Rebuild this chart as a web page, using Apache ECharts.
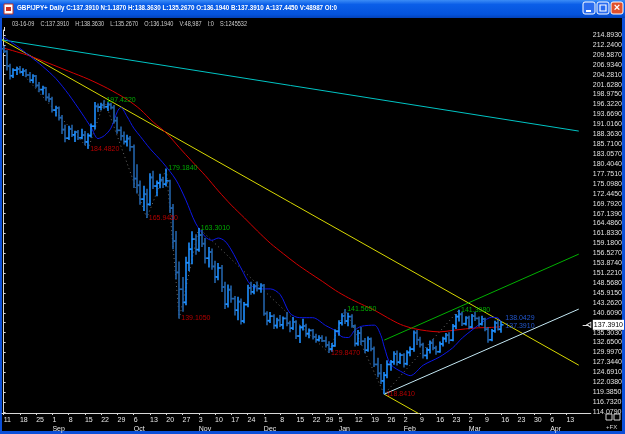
<!DOCTYPE html>
<html>
<head>
<meta charset="utf-8">
<script src="https://cdn.jsdelivr.net/npm/echarts@6/dist/echarts.min.js"></script>
<style>
  html, body { margin: 0; padding: 0; background: #000; }
  #chart { width: 625px; height: 434px; }
</style>
</head>
<body>
<div id="chart"></div>
<script>
// GBP/JPY daily, 11 Aug 2008 .. 16 Mar 2009 (index = trading day, 25 Dec / 1 Jan skipped)
const opens = [
  211.2,210.5,206.6,204.0,205.5,205.8,205.0,205.3,204.2,202.8,
  203.9,201.4,200.3,200.8,198.2,197.8,194.8,195.4,192.8,189.6,
  187.3,189.8,188.2,188.9,187.4,188.1,186.3,188.0,190.5,195.8,
  195.6,196.1,195.7,196.3,195.5,192.0,189.4,187.9,186.4,187.2,
  185.0,176.5,174.7,171.0,172.3,169.6,176.8,174.5,175.3,176.2,
  175.0,175.9,168.6,159.8,151.4,146.9,143.4,154.0,157.6,160.3,
  157.5,161.4,159.1,155.2,156.9,153.0,150.2,152.6,147.5,142.9,
  146.8,144.4,141.3,143.6,138.4,142.8,147.3,146.2,147.7,147.1,
  147.9,140.4,138.5,139.7,137.2,138.6,137.4,139.1,137.8,136.5,
  138.2,134.4,136.7,137.1,135.0,135.9,134.2,133.4,133.9,133.1,
  132.0,130.9,131.8,135.7,137.9,139.8,138.4,139.6,137.1,132.4,
  135.2,133.0,130.6,133.6,131.0,126.8,124.4,122.4,123.9,126.8,
  127.5,129.6,127.4,129.3,127.0,130.0,130.9,135.3,133.4,132.1,
  129.2,130.7,132.5,131.2,130.2,132.3,133.7,134.6,133.3,137.0,
  139.6,140.2,137.7,139.3,136.8,139.7,139.1,137.6,139.0,136.2,
  133.4,135.8,137.9,136.194
];
const highs = [
  212.0,210.8,207.2,206.0,206.4,206.6,206.0,205.8,205.0,204.4,
  204.2,202.3,201.3,201.0,199.3,198.4,196.0,195.8,193.5,190.9,
  190.6,190.9,189.3,189.5,189.8,189.2,188.6,191.2,197.0,196.6,
  196.8,197.422,196.9,196.8,196.2,193.0,190.4,189.1,188.2,187.9,
  185.6,180.3,176.0,174.6,173.8,177.9,178.6,176.0,177.8,177.0,
  179.184,176.2,169.7,162.5,154.3,150.2,155.6,159.4,162.4,161.6,
  163.301,162.8,160.6,158.2,157.8,154.5,153.9,153.4,148.9,148.2,
  147.9,145.1,144.9,144.4,143.5,148.1,148.9,148.3,149.0,148.5,
  148.3,141.0,140.8,140.2,139.3,140.0,139.6,140.8,138.5,139.5,
  138.6,137.3,139.0,137.7,136.4,136.3,135.0,134.6,134.6,134.3,
  133.0,132.5,136.2,138.6,140.5,141.565,140.6,140.2,137.5,136.0,
  136.8,133.9,134.3,134.0,131.6,128.6,126.9,124.8,127.9,128.0,
  130.3,130.5,129.9,129.8,130.6,131.6,135.9,136.0,134.2,132.6,
  131.3,133.2,133.6,131.8,132.9,134.2,135.2,135.4,137.6,140.3,
  141.398,140.9,139.7,139.8,140.3,140.9,139.6,139.8,139.3,136.8,
  136.3,138.5,138.7,138.363
];
const lows = [
  210.1,205.4,203.0,203.4,204.2,204.6,203.9,203.6,202.2,202.0,
  200.8,199.6,198.9,197.4,196.9,194.2,193.1,192.0,188.4,186.2,
  186.8,187.6,186.3,186.8,187.0,185.4,184.482,187.5,189.6,194.3,
  194.8,195.2,194.6,195.0,191.2,188.5,186.7,185.6,185.1,183.8,
  174.0,172.5,169.5,167.8,165.945,169.2,173.7,171.8,173.9,174.0,
  174.4,167.3,157.6,149.5,139.105,140.9,142.6,151.8,153.6,156.1,
  156.9,158.2,153.8,152.7,152.1,148.6,149.3,146.2,141.6,142.0,
  143.3,139.9,138.6,137.5,137.8,142.1,145.4,145.6,146.3,146.0,
  139.8,137.3,137.9,136.3,136.4,136.8,136.2,137.0,135.4,136.0,
  133.6,132.5,135.9,134.2,133.8,133.5,132.6,132.9,132.8,131.3,
  129.847,130.2,131.5,134.5,137.2,137.6,137.0,136.6,131.6,131.8,
  132.0,129.8,130.2,130.3,126.1,123.4,121.6,118.841,123.1,125.1,
  126.7,126.5,126.9,126.0,126.6,129.0,130.2,132.0,131.3,128.4,
  128.2,129.7,130.6,129.4,129.9,131.6,132.7,132.3,133.0,136.3,
  138.3,137.1,137.2,136.2,136.5,138.4,136.9,137.2,135.7,132.6,
  133.0,135.3,135.9,135.267
];
const closes = [
  210.5,206.6,204.0,205.5,205.8,205.0,205.3,204.2,202.8,203.9,
  201.4,200.3,200.8,198.2,197.8,194.8,195.4,192.8,189.6,187.3,
  189.8,188.2,188.9,187.4,188.1,186.3,188.0,190.5,195.8,195.6,
  196.1,195.7,196.3,195.5,192.0,189.4,187.9,186.4,187.2,185.0,
  176.5,174.7,171.0,172.3,169.6,176.8,174.5,175.3,176.2,175.0,
  175.9,168.6,159.8,151.4,146.9,143.4,154.0,157.6,160.3,157.5,
  161.4,159.1,155.2,156.9,153.0,150.2,152.6,147.5,142.9,146.8,
  144.4,141.3,143.6,138.4,142.8,147.3,146.2,147.7,147.1,147.9,
  140.4,138.5,139.7,137.2,138.6,137.4,139.1,137.8,136.5,138.2,
  134.4,136.7,137.1,135.0,135.9,134.2,133.4,133.9,133.1,132.0,
  130.9,131.8,135.7,137.9,139.8,138.4,139.6,137.1,132.4,135.2,
  133.0,130.6,133.6,131.0,126.8,124.4,122.4,123.9,126.8,127.5,
  129.6,127.4,129.3,127.0,130.0,130.9,135.3,133.4,132.1,129.2,
  130.7,132.5,131.2,130.2,132.3,133.7,134.6,133.3,137.0,139.6,
  140.2,137.7,139.3,136.8,139.7,139.1,137.6,139.0,136.2,133.4,
  135.8,137.9,136.2,137.391
];

// moving averages: [day index, price]
const redMA = [[0,211.4],[7,209.6],[14,207.3],[20,205.2],[26,203.1],[32,200.6],[38,197.6],
  [42,195.0],[46,191.6],[50,188.7],[54,184.8],[58,181.0],[62,177.3],[66,173.2],[70,169.4],
  [74,166.0],[78,162.5],[82,159.2],[86,156.4],[90,153.7],[94,151.3],[98,149.0],[102,146.6],
  [106,144.6],[110,142.9],[114,141.3],[118,139.3],[122,137.5],[126,136.4],[130,135.8],
  [134,135.5],[138,135.9],[142,136.3],[146,136.6],[150,136.7],[153,136.9]];
const blueMA = [[0,214.3],[4,212.0],[8,209.3],[12,206.5],[16,203.3],[20,199.0],[24,194.0],
  [27,190.0],[29,187.2],[31,188.0],[33,190.0],[35,194.5],[36,195.5],[38,193.0],[40,190.0],
  [42,187.8],[45,184.5],[49,180.7],[53,176.1],[56,170.8],[59,164.6],[62,160.9],[64,160.0],
  [66,160.6],[68,159.8],[70,157.4],[73,152.5],[76,148.0],[79,147.0],[82,147.0],[85,145.5],
  [88,140.5],[91,139.3],[95,139.3],[99,137.2],[102,135.8],[104,134.2],[106,134.0],[108,136.0],
  [110,137.0],[114,137.3],[116,134.5],[117,131.5],[119,126.8],[123,124.5],[125,123.8],
  [129,126.6],[134,128.8],[138,131.2],[141,133.9],[144,136.0],[147,138.0],[150,139.4],
  [152,139.2],[153,138.0429]];

// swing points
const zigzag = [[4,206.4],[26,184.482],[31,197.422],[44,165.945],[50,179.184],[54,139.105],
  [60,163.301],[100,129.847],[105,141.565],[117,118.841],[140,141.398]];
const swingHighs = [[31,197.422],[50,179.184],[60,163.301],[105,141.565],[140,141.398]];
const swingLows = [[26,184.482],[44,165.945],[54,139.105],[100,129.847],[117,118.841]];
const lastValues = [[153,138.0429],[153,137.391]];
const lastClose = 137.391;

// trend lines
const yellowLine = [[-0.5,213.6],[176.8,126.6]];
const yellowLow = [[117,118.841],[128,113.45]];
const cyanLine = [[-0.5,213.6],[176.8,189.2]];
const greenLine = [[117,133.3],[176.8,156.3]];
const whiteLine = [[117,118.841],[176.8,141.6]];

// axes
const tickIdx = [0,5,10,15,20,25,30,35,40,45,50,55,60,65,70,75,80,85,90,95,99,103,108,113,
  118,123,128,133,138,143,148,153,158,163,168,173];
const tickLabels = ['11','18','25','1\nSep','8','15','22','29','6\nOct','13','20','27','3\nNov',
  '10','17','24','1\nDec','8','15','22','29','5\nJan','12','19','26','2\nFeb','9','16','23',
  '2\nMar','9','16','23','30','6\nApr','13'];
const yTicks = [114.079,116.732,119.385,122.038,124.691,127.344,129.997,132.650,135.303,137.956,
  140.609,143.262,145.915,148.568,151.221,153.874,156.527,159.180,161.833,164.486,167.139,
  169.792,172.445,175.098,177.751,180.404,183.057,185.710,188.363,191.016,193.669,196.322,
  198.975,201.628,204.281,206.934,209.587,212.240,214.893];

const titleText = 'GBP/JPY+ Daily C:137.3910 N:1.1870 H:138.3630 L:135.2670 O:136.1940 B:137.3910 A:137.4450 V:48987 OI:0';
const infoText = '03-16-09    C:137.3910    H:138.3630    L:135.2670    O:136.1940    V:48,987    I:0    S:1245532';

const FONT = 'Liberation Sans';
function fitScale(text, font, width) {
  const ctx = document.createElement('canvas').getContext('2d');
  ctx.font = font;
  return width / ctx.measureText(text).width;
}

const ohlc = opens.map((o, i) => [i, o, highs[i], lows[i], closes[i]]);
// the price box on the axis hides the tick label that sits under it
const yLabelValues = yTicks.filter(v => Math.abs(v - lastClose) > 1.5);

function renderBar(params, api) {
  const i = api.value(0);
  const h = api.coord([i, api.value(2)]);
  const l = api.coord([i, api.value(3)]);
  const o = api.coord([i, api.value(1)]);
  const c = api.coord([i, api.value(4)]);
  const up = api.value(4) >= api.value(1);
  const color = up ? '#1e8fff' : '#2262a8';
  const x = Math.round(h[0]);
  return {
    type: 'group',
    children: [
      { type: 'line', shape: { x1: x, y1: h[1], x2: x, y2: l[1] }, style: { stroke: color, lineWidth: 1.6 } },
      { type: 'line', shape: { x1: x - 2.5, y1: o[1], x2: x, y2: o[1] }, style: { stroke: color, lineWidth: 1.6 } },
      { type: 'line', shape: { x1: x, y1: c[1], x2: x + 2.5, y2: c[1] }, style: { stroke: color, lineWidth: 1.6 } }
    ]
  };
}

function trend(data, color) {
  return {
    type: 'line', data: data, symbol: 'none', silent: true, z: 3,
    lineStyle: { color: color, width: 1 }
  };
}

const chart = echarts.init(document.getElementById('chart'), null, { renderer: 'canvas' });

const option = {
  backgroundColor: '#000',
  animation: false,
  grid: { left: 2, right: 33, top: 30, bottom: 21 },
  xAxis: {
    type: 'value', min: -0.5, max: 180.5,
    axisLine: { show: true, lineStyle: { color: '#d8d8d8', width: 1 } },
    axisTick: { show: true, customValues: tickIdx, length: 2, lineStyle: { color: '#d8d8d8' } },
    axisLabel: {
      customValues: tickIdx,
      formatter: v => tickLabels[tickIdx.indexOf(v)],
      color: '#e8e8e8', fontSize: 7, fontFamily: FONT, align: 'left', margin: 3, lineHeight: 9
    },
    splitLine: { show: false }
  },
  yAxis: {
    type: 'value', position: 'right', min: 113.812, max: 216.23, scale: true,
    axisLine: { show: true, lineStyle: { color: '#d8d8d8', width: 1 } },
    axisTick: { show: true, customValues: yTicks, length: 2, lineStyle: { color: '#d8d8d8' } },
    axisLabel: {
      customValues: yLabelValues,
      formatter: v => v.toFixed(4),
      color: '#e0e0e0', fontSize: 7, fontFamily: FONT, margin: 2
    },
    splitLine: { show: false }
  },
  series: [
    trend(cyanLine, '#00c4c4'),
    trend(yellowLine, '#d8d800'),
    trend(yellowLow, '#d8d800'),
    trend(greenLine, '#00b000'),
    trend(whiteLine, '#c4e8f4'),
    {
      type: 'line', data: zigzag, symbol: 'none', silent: true, z: 2,
      lineStyle: { color: '#6a6a6a', width: 1, type: [1, 3] }
    },
    {
      type: 'line', data: redMA, symbol: 'none', smooth: 0.3, silent: true, z: 4,
      lineStyle: { color: '#d40000', width: 1 }
    },
    {
      type: 'line', data: blueMA, symbol: 'none', smooth: 0.3, silent: true, z: 4,
      lineStyle: { color: '#0c18e8', width: 1 }
    },
    {
      type: 'custom', data: ohlc, renderItem: renderBar, z: 5,
      encode: { x: 0, y: [1, 2, 3, 4] }
    },
    {
      type: 'scatter', data: swingHighs, symbolSize: 0, z: 6, silent: true,
      label: {
        show: true, position: 'right', distance: 2, color: '#00d400',
        fontSize: 7, fontFamily: FONT, formatter: p => p.value[1].toFixed(4)
      }
    },
    {
      type: 'scatter', data: swingLows, symbolSize: 0, z: 6, silent: true,
      label: {
        show: true, position: 'right', distance: 2, color: '#e00000',
        fontSize: 7, fontFamily: FONT, formatter: p => p.value[1].toFixed(4)
      }
    },
    {
      type: 'scatter', symbolSize: 0, z: 6, silent: true,
      data: lastValues.map((d, k) => ({
        value: d,
        label: { offset: [0, k === 0 ? -4 : 1] }
      })),
      label: {
        show: true, position: 'right', distance: 4, color: '#2a6cff',
        fontSize: 7, fontFamily: FONT, formatter: p => p.value[1].toFixed(4)
      },
      markLine: {
        silent: true, symbol: 'none', animation: false, z: 10,
        data: [
          {
            yAxis: lastClose,
            lineStyle: { color: 'rgba(0,0,0,0)', width: 1 },
            label: {
              show: true, position: 'end', distance: 2, formatter: lastClose.toFixed(4),
              color: '#000', backgroundColor: '#ffffff', padding: [2, 1, 1, 1],
              fontSize: 7, fontFamily: FONT
            }
          },
          [
            { coord: [178.0, lastClose], lineStyle: { color: '#e0e0e0', width: 1, type: 'solid' }, label: { show: false } },
            { coord: [179.8, lastClose] }
          ]
        ]
      },
      markPoint: {
        silent: true,
        data: [{ coord: [179.9, lastClose], symbol: 'triangle', symbolSize: [5, 4], symbolRotate: 90,
          itemStyle: { color: '#000', borderColor: '#e0e0e0', borderWidth: 1 }, label: { show: false } }]
      }
    }
  ],
  graphic: [
    // window frame
    { type: 'rect', shape: { x: 0, y: 0, width: 625, height: 18 },
      style: { fill: new echarts.graphic.LinearGradient(0, 0, 0, 1, [
        { offset: 0, color: '#3b8cf6' }, { offset: 0.25, color: '#0a5ee8' },
        { offset: 0.8, color: '#0453dc' }, { offset: 1, color: '#0342b8' }]) }, silent: true },
    { type: 'rect', shape: { x: 0, y: 18, width: 2, height: 416 }, style: { fill: '#0b4fd8' }, silent: true },
    { type: 'rect', shape: { x: 622, y: 18, width: 3, height: 416 }, style: { fill: '#0b4fd8' }, silent: true },
    { type: 'rect', shape: { x: 0, y: 431, width: 625, height: 3 }, style: { fill: '#0b4fd8' }, silent: true },
    // title icon
    { type: 'rect', shape: { x: 4, y: 4, width: 9, height: 10 }, style: { fill: '#fff', stroke: '#c03020', lineWidth: 1 }, silent: true },
    { type: 'rect', shape: { x: 6, y: 7, width: 5, height: 4 }, style: { fill: '#d03020' }, silent: true },
    { type: 'text', x: 17, y: 4, scaleX: fitScale(titleText, 'bold 8px ' + FONT, 320), silent: true,
      style: { text: titleText, fill: '#ffffff', font: 'bold 8px ' + FONT } },
    // window buttons
    { type: 'rect', shape: { x: 583, y: 2, width: 12, height: 12, r: 2 },
      style: { fill: '#2a6cf0', stroke: '#ffffff', lineWidth: 1 }, silent: true },
    { type: 'rect', shape: { x: 586, y: 10, width: 5, height: 2 }, style: { fill: '#fff' }, silent: true },
    { type: 'rect', shape: { x: 597, y: 2, width: 12, height: 12, r: 2 },
      style: { fill: '#2a6cf0', stroke: '#ffffff', lineWidth: 1 }, silent: true },
    { type: 'rect', shape: { x: 600, y: 5, width: 6, height: 6 }, style: { fill: 'none', stroke: '#fff', lineWidth: 1.2 }, silent: true },
    { type: 'rect', shape: { x: 611, y: 2, width: 12, height: 12, r: 2 },
      style: { fill: '#e0502c', stroke: '#ffffff', lineWidth: 1 }, silent: true },
    { type: 'text', x: 617, y: 8, silent: true,
      style: { text: '×', fill: '#fff', font: 'bold 11px ' + FONT, align: 'center', verticalAlign: 'middle' } },
    // status line
    { type: 'rect', shape: { x: 4, y: 27, width: 1, height: 4 }, style: { fill: '#e0e0e0' }, silent: true },
    { type: 'text', x: 12, y: 21, scaleX: fitScale(infoText, '7px ' + FONT, 235), silent: true,
      style: { text: infoText, fill: '#cfcfcf', font: '7px ' + FONT } },
    // corner boxes
    { type: 'rect', shape: { x: 606, y: 414, width: 6, height: 6 }, style: { fill: 'none', stroke: '#d0d0d0', lineWidth: 1 }, silent: true },
    { type: 'rect', shape: { x: 614, y: 414, width: 6, height: 6 }, style: { fill: 'none', stroke: '#d0d0d0', lineWidth: 1 }, silent: true },
    { type: 'text', x: 606, y: 424, silent: true,
      style: { text: '+FX', fill: '#d0d0d0', font: '6px ' + FONT } }
  ]
};

chart.setOption(option);
</script>
</body>
</html>
